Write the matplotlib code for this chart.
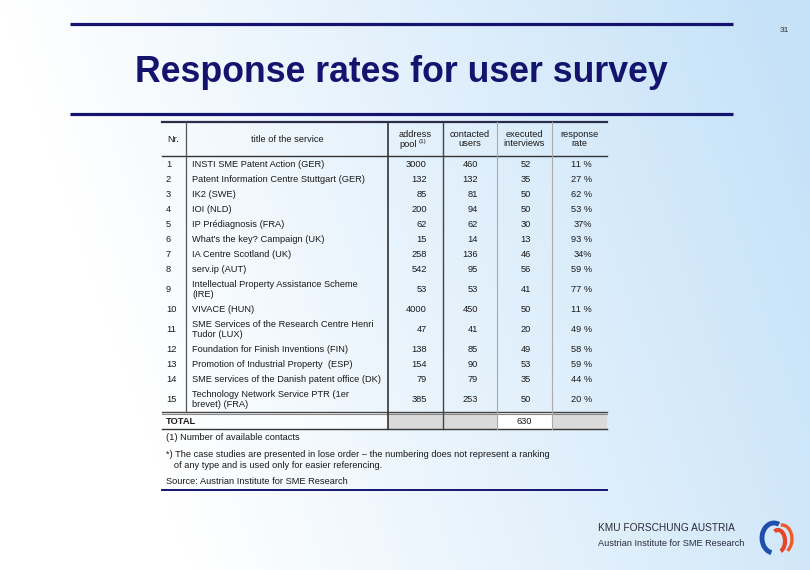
import numpy as np
import matplotlib.pyplot as plt
from matplotlib.patches import Rectangle, Arc

plt.rcParams['font.family'] = ['Liberation Sans', 'DejaVu Sans']

# ---- data ----
slide_title = "Response rates for user survey"
page_no = "31"

col_headers = ["Nr.", "title of the service", "address", "contacted\nusers",
               "executed\ninterviews", "response\nrate"]

nr = [str(i) for i in range(1, 16)]
services = [
    "INSTI SME Patent Action (GER)",
    "Patent Information Centre Stuttgart (GER)",
    "IK2 (SWE)",
    "IOI (NLD)",
    "IP Prédiagnosis (FRA)",
    "What's the key? Campaign (UK)",
    "IA Centre Scotland (UK)",
    "serv.ip (AUT)",
    "Intellectual Property Assistance Scheme\n(IRE)",
    "VIVACE (HUN)",
    "SME Services of the Research Centre Henri\nTudor (LUX)",
    "Foundation for Finish Inventions (FIN)",
    "Promotion of Industrial Property  (ESP)",
    "SME services of the Danish patent office (DK)",
    "Technology Network Service PTR (1er\nbrevet) (FRA)",
]
address_pool = [3000, 132, 85, 200, 62, 15, 258, 542, 53, 4000, 47, 138, 154, 79, 385]
contacted = [460, 132, 81, 94, 62, 14, 136, 95, 53, 450, 41, 85, 90, 79, 253]
executed = [52, 35, 50, 50, 30, 13, 46, 56, 41, 50, 20, 49, 53, 35, 50]
response_rate = ["11 %", "27 %", "62 %", "53 %", "37%", "93 %", "34%", "59 %",
                 "77 %", "11 %", "49 %", "58 %", "59 %", "44 %", "20 %"]
total_label = "TOTAL"
total_executed = 630

footnotes = [
    "(1) Number of available contacts",
    "*) The case studies are presented in lose order \u2013 the numbering does not represent a ranking\n"
    "   of any type and is used only for easier referencing.",
    "Source: Austrian Institute for SME Research",
]
logo_lines = ["KMU FORSCHUNG AUSTRIA", "Austrian Institute for SME Research"]

# ---- figure in pixel coordinates ----
W, H = 810, 570
fig = plt.figure(figsize=(W / 100, H / 100), dpi=100)
ax = fig.add_axes([0, 0, 1, 1])
ax.set_xlim(0, W)
ax.set_ylim(H, 0)
ax.axis('off')

# background: white on the left fading to pale blue on the right
xx, yy = np.meshgrid(np.linspace(0, 1, 200), np.linspace(0, 1, 140))
t = np.clip(xx * 1.05 - 0.25 * yy, 0, 1)
white = np.array([1.0, 1.0, 1.0])
blue = np.array([198, 226, 248]) / 255
bg = white[None, None, :] * (1 - t[..., None]) + blue[None, None, :] * t[..., None]
ax.imshow(bg, extent=[0, W, H, 0], aspect='auto', zorder=0)

navy = '#14146e'
ax.plot([70, 733], [24, 24], color=navy, lw=2.3, solid_capstyle='butt')
ax.plot([70, 733], [114, 114], color=navy, lw=2.3, solid_capstyle='butt')
ax.text(784, 31, page_no, fontsize=6, color='#333333', ha='center', va='center')

ttl = ax.text(401, 73, slide_title, fontsize=24, fontweight='bold', color=navy,
              ha='center', va='center')
fig.canvas.draw()
bb = ttl.get_window_extent()
ttl.set_fontsize(24 * 535 / bb.width)

# ---- table ----
fs = 6.7
tc = '#1a1a1a'
x_left, x_right = 162, 607
col_edges = [162, 186, 388, 443, 497, 552, 607]
y_top, y_head = 122, 156

# row heights depend on number of text lines
row_tops = []
y = y_head + 1
for s in services:
    row_tops.append(y)
    y += 25 if '\n' in s else 15
y_total_top = y + 1
y_total_bot = y_total_top + 16

# grey cells in the total row
for c0, c1 in [(388, 443), (443, 497), (552, 607)]:
    ax.add_patch(Rectangle((c0, y_total_top), c1 - c0, y_total_bot - y_total_top,
                           facecolor='#dadada', edgecolor='none', zorder=1))
ax.add_patch(Rectangle((497, y_total_top), 55, y_total_bot - y_total_top,
                       facecolor='white', edgecolor='none', zorder=1))
ax.add_patch(Rectangle((162, y_total_top), 226, y_total_bot - y_total_top,
                       facecolor='white', edgecolor='none', alpha=0.6, zorder=1))

# horizontal rules
ax.plot([x_left, x_right], [y_top, y_top], color='#2b2b4a', lw=1.6, zorder=3)
ax.plot([x_left, x_right], [y_head, y_head], color='#333333', lw=1.0, zorder=3)
ax.plot([x_left, x_right], [y_total_top - 1.5, y_total_top - 1.5], color='#444444', lw=1.0, zorder=3)
ax.plot([x_left, x_right], [y_total_top + 0.5, y_total_top + 0.5], color='#888888', lw=0.8, zorder=3)
ax.plot([x_left, x_right], [y_total_bot, y_total_bot], color='#333333', lw=1.0, zorder=3)

# vertical rules
vlines = [(186, '#555555', 0.9, y_total_top - 1.5), (388, '#333333', 1.2, y_total_bot),
          (443, '#444444', 1.0, y_total_bot), (497, '#aaaaaa', 0.8, y_total_bot),
          (552, '#aaaaaa', 0.8, y_total_bot)]
for xv, c, lw, yb in vlines:
    ax.plot([xv, xv], [y_top, yb], color=c, lw=lw, zorder=3)

# headers
yh = (y_top + y_head) / 2
ax.text(167, yh, col_headers[0], fontsize=fs, color=tc, ha='left', va='center')
ax.text(287, yh, col_headers[1], fontsize=fs, color=tc, ha='center', va='center')
ax.text(415.5, 134.5, col_headers[2], fontsize=fs, color=tc, ha='center', va='center')
ax.text(417, 144.5, "pool", fontsize=fs, color=tc, ha='right', va='center')
ax.text(419, 141.5, "(1)", fontsize=4.5, color=tc, ha='left', va='center')
for i, hdr in enumerate(col_headers[3:]):
    cx = (col_edges[i + 3] + col_edges[i + 4]) / 2
    ax.text(cx, yh, hdr, fontsize=fs, color=tc, ha='center', va='center', linespacing=1.05)

# body rows
num_x = [427, 478, 531, 592]
for i in range(len(services)):
    h = 25 if '\n' in services[i] else 15
    yc = row_tops[i] + h / 2
    ax.text(166, yc, nr[i], fontsize=fs, color=tc, ha='left', va='center')
    ax.text(192, yc, services[i], fontsize=fs, color=tc, ha='left', va='center',
            linespacing=1.1)
    vals = [address_pool[i], contacted[i], executed[i], response_rate[i]]
    for xv, v in zip(num_x, vals):
        ax.text(xv, yc, str(v), fontsize=fs, color=tc, ha='right', va='center')

yt = (y_total_top + y_total_bot) / 2
ax.text(166, yt, total_label, fontsize=fs, color=tc, fontweight='bold', ha='left', va='center')
ax.text(524.5, yt, str(total_executed), fontsize=fs, color=tc, ha='center', va='center')

# footnotes
ax.text(166, 438, footnotes[0], fontsize=fs, color=tc, ha='left', va='center')
ax.text(166, 460, footnotes[1], fontsize=fs, color=tc, ha='left', va='center', linespacing=1.15)
ax.text(166, 482, footnotes[2], fontsize=fs, color=tc, ha='left', va='center')
ax.plot([x_left, x_right], [490, 490], color=navy, lw=1.4)

# logo
ax.text(598, 528, logo_lines[0], fontsize=7.3, color='#2a2a3a', ha='left', va='center')
ax.text(598, 544, logo_lines[1], fontsize=6.6, color='#2a2a3a', ha='left', va='center')
ax.add_patch(Arc((774, 538), 24, 30, theta1=100, theta2=290, color='#1f4fa8', lw=3.5))
ax.add_patch(Arc((778, 541), 14, 22, theta1=-110, theta2=75, color='#e8442a', lw=3.0))
ax.add_patch(Arc((782, 539), 20, 28, theta1=-95, theta2=65, color='#f05a28', lw=2.4))

fig.savefig('out.png', dpi=100)
